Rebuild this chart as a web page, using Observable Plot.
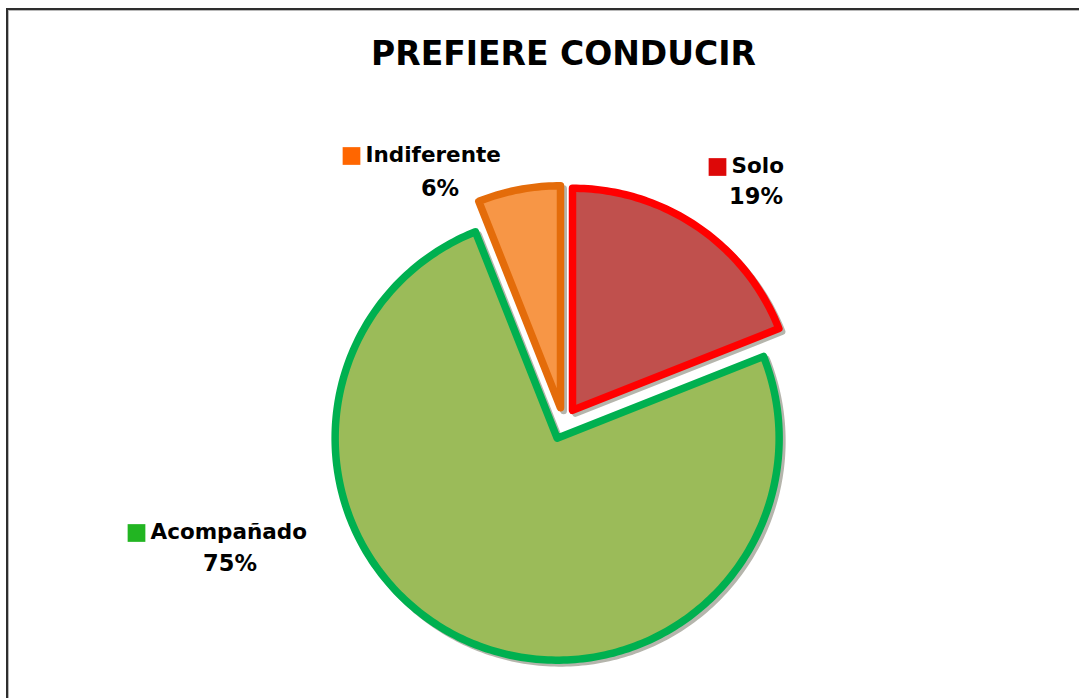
<!DOCTYPE html>
<html>
<head>
<meta charset="utf-8">
<script src="https://cdn.jsdelivr.net/npm/d3@7"></script>
<script src="https://cdn.jsdelivr.net/npm/@observablehq/plot@0.6"></script>
<style>
  body { margin: 0; background: #fff; width: 1079px; height: 698px; overflow: hidden; position: relative; font-family: "DejaVu Sans", Verdana, sans-serif; }
  #frame { position: absolute; left: 6px; top: 8px; right: -20px; bottom: -20px; border-top: 2px solid #2e2e2e; border-left: 2px solid #2e2e2e; box-shadow: inset 1px 1px 0 #b8b8b8; }
  #title { position: absolute; left: 0; width: 1127px; top: 35px; text-align: center; font-weight: bold; font-size: 33px; line-height: 38px; color: #000; }
  #chart { position: absolute; left: 0; top: 0; }
</style>
</head>
<body>
<div id="frame"></div>
<div id="title">PREFIERE CONDUCIR</div>
<div id="chart"></div>
<script>
// ---- data ----
const categories = ["Solo", "Acompañado", "Indiferente"];
const values = [19, 75, 6];

// ---- styles ----
const sliceFills = ["#C0504D", "#9BBB59", "#F79646"];
const sliceStrokes = ["#FF0000", "#00B050", "#E46C0A"];
const keyColors = ["#DD0808", "#22B522", "#FF6600"];

// ---- layout (pixel space) ----
const center = [563, 423];
const radius = 222;
const explode = 16;
const nameAnchor = [[731, 166], [150, 532], [365, 155]];
const pctAnchor = [[755.5, 196], [229.5, 563], [439.5, 188.5]];

// ---- geometry from data ----
const pie = d3.pie().sort(null).startAngle(0).endAngle(2 * Math.PI)(values);
const slices = pie.map((p, i) => {
  const mid = (p.startAngle + p.endAngle) / 2;
  const ox = center[0] + explode * Math.sin(mid);
  const oy = center[1] - explode * Math.cos(mid);
  const pts = [{x: ox, y: oy}];
  const steps = Math.max(2, Math.ceil((p.endAngle - p.startAngle) / (Math.PI / 180)));
  for (let k = 0; k <= steps; k++) {
    const a = p.startAngle + (p.endAngle - p.startAngle) * k / steps;
    pts.push({x: ox + radius * Math.sin(a), y: oy - radius * Math.cos(a)});
  }
  return {name: categories[i], value: values[i], pts, fill: sliceFills[i], stroke: sliceStrokes[i]};
});

const labels = categories.map((c, i) => ({
  name: c, pct: values[i] + "%",
  nx: nameAnchor[i][0], ny: nameAnchor[i][1],
  kx: nameAnchor[i][0] - 14, ky: nameAnchor[i][1] + 0.5,
  px: pctAnchor[i][0], py: pctAnchor[i][1],
  key: keyColors[i]
}));

const shadowMarks = slices.map(s => Plot.line(s.pts, {
  x: "x", y: "y", curve: "linear-closed", fill: "none",
  stroke: "#5a5a48", strokeOpacity: 0.45, strokeWidth: 7, strokeLinejoin: "round",
  dx: 3, dy: 3
}));
const sliceMarks = slices.map(s => Plot.line(s.pts, {
  x: "x", y: "y", curve: "linear-closed", fill: s.fill,
  stroke: s.stroke, strokeWidth: 7.5, strokeLinejoin: "round"
}));

const chart = Plot.plot({
  width: 1079, height: 698, margin: 0,
  x: {domain: [0, 1079], axis: null},
  y: {domain: [0, 698], range: [0, 698], axis: null},
  style: {background: "transparent", overflow: "visible"},
  marks: [
    ...shadowMarks,
    ...sliceMarks,
    Plot.dot(labels, {x: "kx", y: "ky", symbol: "square", r: 10, fill: "key", stroke: "none"}),
    Plot.text(labels, {x: "nx", y: "ny", text: "name", textAnchor: "start", fontSize: 21.5, fontWeight: "bold", fontFamily: "DejaVu Sans", fill: "#000"}),
    Plot.text(labels, {x: "px", y: "py", text: "pct", textAnchor: "middle", fontSize: 22.5, fontWeight: "bold", fontFamily: "DejaVu Sans", fill: "#000"})
  ]
});
document.getElementById("chart").appendChild(chart);
</script>
</body>
</html>
